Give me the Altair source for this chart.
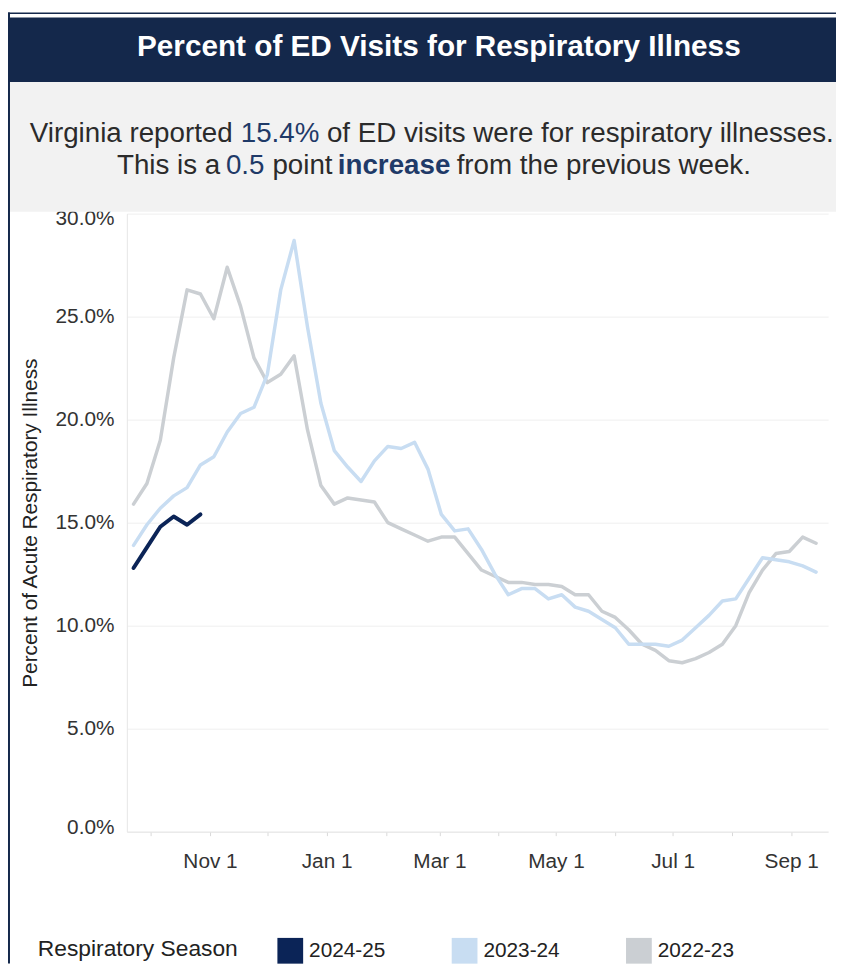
import altair as alt
import pandas as pd

# ---------------- data ----------------
season_names = ["2024-25", "2023-24", "2022-23"]
season_colors = ["#0b2457", "#c8ddf2", "#cbcfd3"]
first_week = "2022-09-22"   # weeks of the season mapped onto one common year

pct_2022_23 = [15.9, 16.9, 19.0, 23.0, 26.3, 26.1, 24.9, 27.4, 25.5, 23.0,
               21.8, 22.2, 23.1, 19.5, 16.8, 15.9, 16.2, 16.1, 16.0, 15.0,
               14.7, 14.4, 14.1, 14.3, 14.3, 13.5, 12.7, 12.4, 12.1, 12.1,
               12.0, 12.0, 11.9, 11.5, 11.5, 10.7, 10.4, 9.8, 9.1, 8.8,
               8.3, 8.2, 8.4, 8.7, 9.1, 10.0, 11.6, 12.7, 13.5, 13.6,
               14.3, 14.0]
pct_2023_24 = [13.9, 14.9, 15.7, 16.3, 16.7, 17.8, 18.2, 19.4, 20.3, 20.6,
               22.2, 26.3, 28.7, 24.5, 20.8, 18.5, 17.7, 17.0, 18.0, 18.7,
               18.6, 18.9, 17.6, 15.4, 14.6, 14.7, 13.7, 12.5, 11.5, 11.8,
               11.8, 11.3, 11.5, 10.9, 10.7, 10.3, 9.9, 9.1, 9.1, 9.1,
               9.0, 9.3, 9.9, 10.5, 11.2, 11.3, 12.3, 13.3, 13.2, 13.1,
               12.9, 12.6]
pct_2024_25 = [12.8, 13.8, 14.8, 15.3, 14.9, 15.4]

y_ticks = [0, 5, 10, 15, 20, 25, 30]
tick_months = [(2022, 10), (2022, 11), (2022, 12)] + [(2023, m) for m in range(1, 10)]

title_text = "Percent of ED Visits for Respiratory Illness"
y_title = "Percent of Acute Respiratory Illness"
legend_title = "Respiratory Season"
state_name = "Virginia"

# ---------------- derived table ----------------
dates = pd.date_range(first_week, periods=len(pct_2022_23), freq="7D")
series = {"2022-23": pct_2022_23, "2023-24": pct_2023_24, "2024-25": pct_2024_25}
df = pd.DataFrame([{"week": d, "pct": v, "season": s}
                   for s, vals in series.items() for d, v in zip(dates, vals)])
one = pd.DataFrame({"k": [0]})

latest = pct_2024_25[-1]
change = latest - pct_2024_25[-2]

NAVY = "#14284b"
TXT = "#2b2b2b"
ACCENT = "#1f3a68"
FONT = "Liberation Sans"

# ---------------- frame (banner, subtitle box, border) ----------------
W_PLOT, H_PLOT = 708, 624
PAD_L, PAD_T, PAD_R, PAD_B = 120, 203, 8, 133
LEFT, RIGHT = -PAD_L, W_PLOT + PAD_R
TOP, BOTTOM = -PAD_T, H_PLOT + PAD_B

sub_bg = alt.Chart(one).mark_rect(color="#f2f2f2").encode(
    x=alt.value(LEFT), x2=alt.value(RIGHT), y=alt.value(-133), y2=alt.value(-2))
banner = alt.Chart(one).mark_rect(color=NAVY).encode(
    x=alt.value(LEFT), x2=alt.value(RIGHT), y=alt.value(-198), y2=alt.value(-133))
border_top = alt.Chart(one).mark_rule(color=NAVY, strokeWidth=1.5).encode(
    x=alt.value(LEFT), x2=alt.value(RIGHT), y=alt.value(TOP + 0.75))
border_left = alt.Chart(one).mark_rule(color=NAVY, strokeWidth=2).encode(
    x=alt.value(LEFT + 1), y=alt.value(TOP), y2=alt.value(BOTTOM))

title_mark = alt.Chart(one).mark_text(
    text=title_text, font=FONT, fontSize=30, fontWeight="bold", color="white",
    align="center", baseline="middle").encode(x=alt.value(315), y=alt.value(-168))

# subtitle segments: (text, colour, weight, x)
line1 = [(f"{state_name} reported", TXT, "normal", -98),
         (f"{latest:.1f}%", ACCENT, "normal", 115),
         ("of ED visits were for respiratory illnesses.", TXT, "normal", 202)]
line2 = [("This is a", TXT, "normal", -10),
         (f"{abs(change):.1f}", ACCENT, "normal", 100),
         ("point", TXT, "normal", 147),
         ("increase" if change > 0 else "decrease", ACCENT, "bold", 213),
         ("from the previous week.", TXT, "normal", 333)]

text_layers = []
for segs, yy in [(line1, -80), (line2, -48)]:
    for txt, col, wt, xx in segs:
        text_layers.append(alt.Chart(one).mark_text(
            text=txt, font=FONT, fontSize=28, fontWeight=wt, color=col,
            align="left", baseline="middle").encode(x=alt.value(xx), y=alt.value(yy)))

# legend heading, placed to the left of the legend entries
legend_heading = alt.Chart(one).mark_text(
    text=legend_title, font=FONT, fontSize=23, color="#222222",
    align="right", baseline="middle").encode(x=alt.value(112), y=alt.value(743))

# ---------------- chart ----------------
x_enc = alt.X("week:T",
              scale=alt.Scale(domain=[alt.DateTime(year=2022, month=9, date=18, hours=12),
                                      alt.DateTime(year=2023, month=9, date=20, hours=7)],
                              nice=False),
              axis=alt.Axis(values=[alt.DateTime(year=y, month=m, date=1) for y, m in tick_months],
                            labelExpr="month(datum.value) % 2 == 0 ? timeFormat(datum.value, '%b %-d') : ''",
                            title=None, grid=False, tickSize=4, tickColor="#d9d9d9",
                            domainColor="#e6e6e6", labelPadding=15, labelFontSize=21,
                            labelColor="#333333", labelOverlap=False, labelFlush=False))
y_enc = alt.Y("pct:Q",
              scale=alt.Scale(domain=[0, 30], nice=False),
              axis=alt.Axis(values=y_ticks, labelExpr="format(datum.value, '.1f') + '%'",
                            title=y_title, titleFontSize=21, titleFontWeight="normal",
                            titleColor="#222222", titleX=-97, titleY=H_PLOT / 2,
                            titleBaseline="middle", titleAngle=270,
                            ticks=False, domainColor="#e6e6e6", gridColor="#efefef",
                            labelPadding=13, labelFontSize=21, labelColor="#333333",
                            labelFlush=True, labelFlushOffset=6))
color_scale = alt.Scale(domain=season_names, range=season_colors)

season_legend = alt.Legend(
    title=None, orient="none", legendX=152, legendY=731,
    direction="horizontal",
    symbolType="square", symbolSize=169, symbolStrokeWidth=13,
    labelFontSize=21, labelColor="#222222",
    columnPadding=46, labelOffset=6)

line_layers = []
for s, sw in [("2022-23", 3.5), ("2023-24", 3.5), ("2024-25", 4)]:
    line_layers.append(
        alt.Chart(df).transform_filter(alt.datum.season == s)
        .mark_line(strokeWidth=sw, strokeCap="round", strokeJoin="round")
        .encode(x=x_enc, y=y_enc,
                color=alt.Color("season:N", scale=color_scale, legend=season_legend)))

chart = alt.layer(sub_bg, banner, border_top, border_left, title_mark, *text_layers,
                  legend_heading, *line_layers).properties(
    width=W_PLOT, height=H_PLOT,
    padding={"left": PAD_L, "top": PAD_T, "right": PAD_R, "bottom": PAD_B},
    autosize=alt.AutoSizeParams(type="none"),
).configure(font=FONT).configure_view(stroke=None)

chart.save("out.html", embed_options={"renderer": "svg", "actions": False})
